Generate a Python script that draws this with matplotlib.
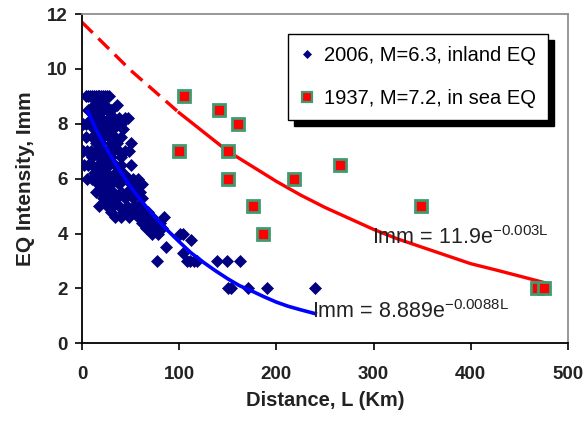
import matplotlib
matplotlib.use("Agg")
import matplotlib.pyplot as plt
from matplotlib.patches import Rectangle

plt.rcParams['font.family'] = ['Liberation Sans', 'DejaVu Sans']
plt.rcParams['mathtext.fontset'] = 'custom'
plt.rcParams['mathtext.rm'] = 'Liberation Sans'

# 2006 inland EQ: intensity level -> distances
rows_2006 = {
    9.0: [4, 6, 8, 10, 12, 14, 16, 18, 20, 22, 24, 26, 28],
    8.7: [12, 18, 24, 36],
    8.5: [6, 9, 14, 18, 22, 26, 30],
    8.2: [10, 16, 20, 28, 33, 38, 44, 47],
    8.0: [1, 4, 8, 14, 20, 24, 30, 36, 40],
    7.8: [12, 18, 26, 32, 42],
    7.5: [4, 10, 16, 22, 28, 34, 40],
    7.3: [14, 20, 30, 36, 50],
    7.0: [1, 5, 9, 14, 20, 26, 32, 38, 44, 48],
    6.8: [10, 18, 24, 30, 40],
    6.5: [2, 6, 10, 16, 22, 28, 34, 40, 50],
    6.2: [12, 20, 26, 34, 42],
    6.0: [5, 10, 13, 18, 24, 30, 36, 42, 48, 52, 58],
    5.8: [16, 22, 30, 38, 50, 56, 62],
    5.5: [14, 20, 26, 32, 40, 46, 54, 60],
    5.3: [22, 28, 36, 44, 52, 62],
    5.0: [18, 26, 32, 38, 46, 54, 58],
    4.8: [30, 42, 50, 56, 64, 68],
    4.6: [34, 40, 48, 58, 66, 72, 84],
    4.4: [62, 70, 76, 80],
    4.2: [66, 74, 82],
    4.0: [72, 78, 101, 104],
    3.75: [112],
    3.5: [86],
    3.3: [104],
    3.0: [77, 108, 111, 115, 118, 139, 149, 163],
    2.0: [150, 153, 171, 190, 240],
}
dist_2006 = [d for lvl, ds in rows_2006.items() for d in ds]
imm_2006 = [lvl for lvl, ds in rows_2006.items() for d in ds]

# 1937 in-sea EQ
dist_1937 = [100, 105, 141, 150, 150, 160, 176, 186, 218, 265, 349, 468, 475]
imm_1937 = [7, 9, 8.5, 7, 6, 8, 5, 4, 6, 6.5, 5, 2, 2]

# trend lines, points
trend_red_dash_L = [0, 50, 100]
trend_red_dash_I = [11.7, 9.95, 8.4]
trend_red_L = [100, 125, 150, 175, 200, 225, 250, 275, 300, 325, 350, 375,
               400, 425, 450, 477]
trend_red_I = [8.4, 7.7, 7.0, 6.45, 5.9, 5.4, 4.95, 4.55, 4.15, 3.8, 3.5,
               3.2, 2.9, 2.68, 2.45, 2.2]
trend_blue_L = [6, 15, 25, 37, 50, 62, 75, 87, 100, 112, 125, 137, 150, 162,
                175, 187, 200, 212, 225, 240]
trend_blue_I = [8.45, 7.75, 7.1, 6.4, 5.7, 5.15, 4.6, 4.15, 3.7, 3.3, 2.95,
                2.65, 2.35, 2.1, 1.9, 1.7, 1.5, 1.35, 1.22, 1.08]

fig = plt.figure(figsize=(5.87, 4.21), dpi=100)
ax = fig.add_axes([0.1397, 0.1846, 0.8279, 0.7821])

ax.plot(trend_red_dash_L, trend_red_dash_I, color='#ff0000', lw=2.4,
        dashes=(4.5, 2.4), zorder=2)
ax.plot(trend_red_L, trend_red_I, color='#ff0000', lw=2.4, zorder=2)
ax.plot(trend_blue_L, trend_blue_I, color='#0000ff', lw=2.6, zorder=5)

ax.plot(dist_2006, imm_2006, ls='none', marker='D', ms=6, color='#000080',
        mec='#000080', mew=0.5, zorder=4, label='2006, M=6.3, inland EQ')
ax.plot(dist_1937, imm_1937, ls='none', marker='s', ms=8, mfc='#ff0000',
        mec='#3f9a70', mew=2, zorder=4, label='1937, M=7.2, in sea EQ')

ax.text(298, 3.85, r'Imm = 11.9e$^{\mathrm{-0.003L}}$', fontsize=15.5,
        color='#222222', va='center', ha='left', zorder=6)
ax.text(237, 1.15, r'Imm = 8.889e$^{\mathrm{-0.0088L}}$', fontsize=15.5,
        color='#222222', va='center', ha='left', zorder=6)

ax.set_xlim(0, 500)
ax.set_ylim(0, 12)
ax.set_xticks([0, 100, 200, 300, 400, 500])
ax.set_yticks([0, 2, 4, 6, 8, 10, 12])
ax.tick_params(direction='out', length=5, width=1.2, labelsize=13.5,
               colors='black', labelcolor='#222222')
ax.tick_params(axis='x', pad=11)
ax.tick_params(axis='y', pad=5)
for lab in ax.get_xticklabels() + ax.get_yticklabels():
    lab.set_fontweight('bold')

for s in ['left', 'bottom']:
    ax.spines[s].set_color('black')
    ax.spines[s].set_linewidth(1.3)
for s in ['top', 'right']:
    ax.spines[s].set_color('#909090')
    ax.spines[s].set_linewidth(1.3)

ax.set_xlabel('Distance, L (Km)', fontsize=14.5, fontweight='bold',
              color='#222222', labelpad=6)
ax.set_ylabel('EQ Intensity, Imm', fontsize=15, fontweight='bold',
              color='#222222', labelpad=9)

leg = ax.legend(loc='upper left', bbox_to_anchor=(0.424, 0.939),
                borderaxespad=0, fontsize=14.5, fancybox=False, framealpha=1,
                edgecolor='black', handlelength=0.7, handletextpad=0.5,
                borderpad=0.6, labelspacing=1.2)
leg.get_frame().set_linewidth(1.0)
leg.set_zorder(7)
leg.legend_handles[0].set_markersize(3.6)
leg.legend_handles[1].set_markersize(6.5)
leg.legend_handles[1].set_markeredgewidth(1.6)

# black drop shadow behind the legend
fig.canvas.draw()
bb = leg.get_window_extent().transformed(ax.transAxes.inverted())
ax.add_patch(Rectangle((bb.x0 + 6 / 486, bb.y0 - 6 / 329), bb.width, bb.height,
                       transform=ax.transAxes, color='black', zorder=6.5,
                       clip_on=False))

fig.savefig('out.png', dpi=100)
